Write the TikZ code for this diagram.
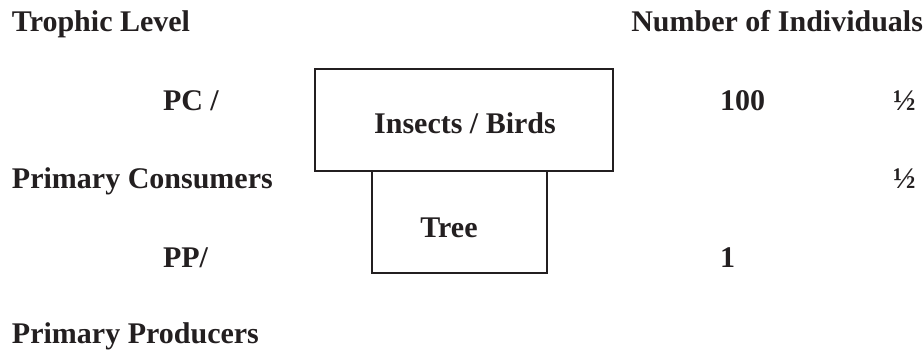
\documentclass[tikz,border=0pt]{standalone}
\usepackage{fontspec}
\setmainfont{Liberation Serif}
\definecolor{ink}{RGB}{35,31,32}
\begin{document}
\begin{tikzpicture}[x=1pt,y=1pt,
  txt/.style={inner sep=0pt,outer sep=0pt,text=ink,font=\fontsize{30}{36}\selectfont\bfseries},
  lbl/.style={txt,anchor=base west},
  boxnode/.style={draw=ink,line width=2pt,inner sep=0pt,anchor=north west}]
\useasboundingbox (0,0) rectangle (923,-353);
% boxes
\node[boxnode,minimum width=298pt,minimum height=102pt] (top) at (314,-68) {};
\node[boxnode,minimum width=175pt,minimum height=102pt] (tree) at (371,-170) {};
\node[txt,anchor=base] (tins) at (465,-133) {Insects / Birds};
\node[txt,anchor=base] (ttree) at (449,-237) {Tree};
% left column
\node[lbl] (trophic) at (12,-32) {Trophic Level};
\node[lbl] (pc) at (163,-110) {PC /};
\node[lbl] (pcons) at (12,-188) {Primary Consumers};
\node[lbl] (pp) at (163,-267) {PP/};
\node[lbl] (pprod) at (12,-343) {Primary Producers};
% right columns
\node[txt,anchor=base east] (numind) at (923,-32) {Number of Individuals};
\node[lbl] (n100) at (720,-110) {100};
\node[lbl] (n1) at (720,-267) {1};
\node[lbl] (h1) at (893,-110) {½};
\node[lbl] (h2) at (893,-188) {½};
\end{tikzpicture}
\end{document}
